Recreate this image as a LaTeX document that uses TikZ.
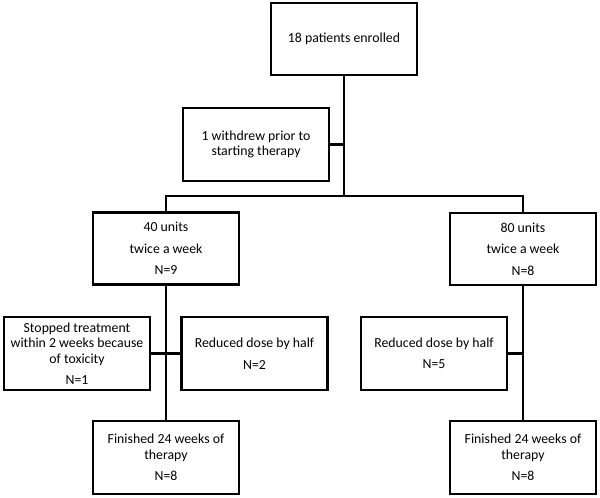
\documentclass[tikz,border=0pt]{standalone}
\usepackage{fontspec}
\setmainfont{Carlito}
\usepackage{tikz}
\usetikzlibrary{positioning,calc}
\definecolor{Ink}{HTML}{000000}

\begin{document}
\begin{tikzpicture}[x=1pt,y=-1pt,
  box/.style={draw=Ink,line width=2.8pt,fill=white,minimum width=146pt,minimum height=72pt,
    inner sep=2pt,align=center,font=\fontsize{13.8}{15.5}\selectfont},
  link/.style={draw=Ink,line width=2.8pt}]
  \useasboundingbox (0,0) rectangle (600,498);
  \node[box] (enrol) at (344,39) {18 patients enrolled};
  \node[box,minimum height=73pt] (withdrew) at (256,144.5) {1 withdrew prior to\\starting therapy};
  \node[box] (arm40) at (166,248.5) {40 units\\[6pt]twice a week\\[6pt]N=9};
  \node[box] (arm80) at (523,249) {80 units\\[6pt]twice a week\\[6pt]N=8};
  \node[box,minimum height=73pt] (stop) at (77,353.5)
    {Stopped treatment\\within 2 weeks because\\of toxicity\\[6pt]N=1};
  \node[box,minimum height=73pt] (red2) at (254.5,353.5) {Reduced\ dose by half\\[6pt]N=2};
  \node[box,minimum height=73pt] (red5) at (434,353.5) {Reduced\ dose by half\\[6pt]N=5};
  \node[box,minimum height=73pt] (fin40) at (166,457.5) {Finished 24 weeks of\\therapy\\[6pt]N=8};
  \node[box,minimum height=73pt] (fin80) at (523,457.5) {Finished 24 weeks of\\therapy\\[6pt]N=8};
  \coordinate (split) at (344,196);
  % trunk and the two arms
  \draw[link] (enrol) -- (split);
  \draw[link] (withdrew.east) -- (withdrew.east -| split);
  \draw[link] (arm40.north) |- (split) -| (arm80.north);
  \draw[link] (arm40) -- (fin40);
  \draw[link] (stop.east) -- (red2.west);
  \draw[link] (arm80) -- (fin80);
  \draw[link] (red5.east) -- (red5.east -| arm80.south);
\end{tikzpicture}
\end{document}
